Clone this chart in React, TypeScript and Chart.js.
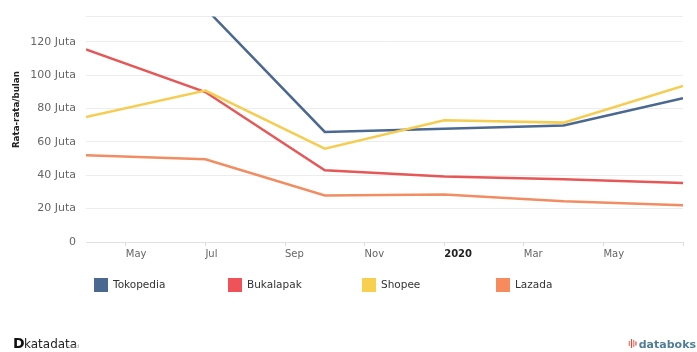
import React, { useEffect, useRef } from 'react';
import { Chart, registerables } from 'chart.js';

Chart.register(...registerables);

// x positions: month offset from April 2019 (quarterly points)
const months = [0, 3, 6, 9, 12, 15];
const tokopedia = [137, 140, 65.9, 67.9, 69.8, 86.1];
const bukalapak = [115.3, 89.8, 42.9, 39.3, 37.6, 35.3];
const shopee = [74.9, 90.7, 55.9, 72.9, 71.5, 93.4];
const lazada = [52.0, 49.6, 27.9, 28.4, 24.4, 22.0];

const seriesNames = ['Tokopedia', 'Bukalapak', 'Shopee', 'Lazada'];
const seriesValues = [tokopedia, bukalapak, shopee, lazada];
const seriesColors = ['#4b6891', '#e65757', '#f5cd52', '#f28c62'];
const legendColors = ['#4b6891', '#f0525a', '#f8d050', '#f68b5e'];

const xTickMonths = [1, 3, 5, 7, 9, 11, 13, 15];
const xTickLabels = ['May', 'Jul', 'Sep', 'Nov', '2020', 'Mar', 'May', ''];
const yTickValues = [0, 20, 40, 60, 80, 100, 120];
const yTickLabels = ['0', '20 Juta', '40 Juta', '60 Juta', '80 Juta', '100 Juta', '120 Juta'];
const yTop = 135;
const yTitle = 'Rata-rata/bulan';

const FONT = '"DejaVu Sans", Verdana, sans-serif';

const overlayPlugin = {
  id: 'overlay',
  afterDraw(chart: any) {
    const ctx = chart.ctx as CanvasRenderingContext2D;
    const ca = chart.chartArea;
    // y axis title
    ctx.save();
    ctx.translate(17, ca.top + 93);
    ctx.rotate(-Math.PI / 2);
    ctx.font = `bold 8.7px ${FONT}`;
    ctx.fillStyle = '#222';
    ctx.textAlign = 'center';
    ctx.textBaseline = 'middle';
    ctx.fillText(yTitle, 0, 0);
    ctx.restore();

    // legend
    ctx.save();
    ctx.font = `10.5px ${FONT}`;
    ctx.textBaseline = 'middle';
    ctx.textAlign = 'left';
    seriesNames.forEach((name, i) => {
      const x = 94 + i * 134;
      ctx.fillStyle = legendColors[i];
      ctx.fillRect(x, 278, 14, 14);
      ctx.fillStyle = '#333';
      ctx.fillText(name, x + 19, 285);
    });
    ctx.restore();

    // footer: katadata
    ctx.save();
    ctx.textBaseline = 'alphabetic';
    ctx.textAlign = 'left';
    ctx.fillStyle = '#111';
    ctx.font = `bold 14px ${FONT}`;
    ctx.fillText('D', 13, 348);
    ctx.fillStyle = '#222';
    ctx.font = `500 12px ${FONT}`;
    ctx.fillText('katadata', 24, 348);
    ctx.fillStyle = '#aaa';
    ctx.font = `5px ${FONT}`;
    ctx.fillText('.co.id', 66, 348);

    // footer: databoks
    ctx.fillStyle = '#4f7f96';
    ctx.font = `bold 11px ${FONT}`;
    ctx.textAlign = 'right';
    ctx.fillText('databoks', 696, 348);
    const w = ctx.measureText('databoks').width;
    const ix = 696 - w - 10;
    const iconColors = ['#f07a5a', '#e8454a', '#f07a5a', '#e8454a'];
    const iconH = [5, 9, 7, 4];
    iconH.forEach((h, i) => {
      ctx.fillStyle = iconColors[i];
      ctx.fillRect(ix + i * 2.2, 339 + (9 - h) / 2, 1.2, h);
    });
    ctx.restore();
  },
};

export default function App() {
  const ref = useRef<HTMLCanvasElement | null>(null);

  useEffect(() => {
    document.body.style.margin = '0';
    const canvas = ref.current;
    if (!canvas) return;
    const datasets = seriesNames.map((name, i) => ({
      label: name,
      data: months.map((m, j) => ({ x: m, y: seriesValues[i][j] })),
      borderColor: seriesColors[i],
      backgroundColor: seriesColors[i],
      borderWidth: 2.5,
      pointRadius: 0,
      tension: 0,
      fill: false,
      order: 3 - i,
    }));
    const chart = new Chart(canvas, {
      type: 'line',
      data: { datasets },
      plugins: [overlayPlugin],
      options: {
        responsive: false,
        animation: false,
        events: [],
        layout: { padding: { left: 0, right: 14, top: 15, bottom: 0 } },
        plugins: {
          legend: { display: false },
          tooltip: { enabled: false },
          title: { display: false },
        },
        scales: {
          x: {
            type: 'linear',
            min: 0,
            max: 15,
            afterBuildTicks: (scale: any) => {
              scale.ticks = xTickMonths.map((v) => ({ value: v }));
            },
            afterFit: (scale: any) => {
              scale.height = 110;
            },
            grid: {
              drawOnChartArea: false,
              drawTicks: true,
              tickLength: 4,
              color: '#dcdcdc',
            },
            border: { display: true, color: '#e0e0e0', width: 1 },
            ticks: {
              align: 'start',
              padding: 2,
              maxRotation: 0,
              autoSkip: false,
              callback: (v: any) => {
                const idx = xTickMonths.indexOf(Number(v));
                return idx >= 0 ? xTickLabels[idx] : '';
              },
              color: (c: any) => (c.tick && c.tick.label === '2020' ? '#222' : '#666'),
              font: (c: any) =>
                c.tick && c.tick.label === '2020'
                  ? { family: FONT, size: 10, weight: 'bold' }
                  : { family: FONT, size: 10 },
            },
          },
          y: {
            type: 'linear',
            min: 0,
            max: yTop,
            afterBuildTicks: (scale: any) => {
              scale.ticks = [...yTickValues, yTop].map((v) => ({ value: v }));
            },
            afterFit: (scale: any) => {
              scale.width = 86;
            },
            grid: {
              drawTicks: false,
              color: '#ececec',
              lineWidth: 1,
            },
            border: { display: false },
            ticks: {
              padding: 10,
              autoSkip: false,
              color: '#666',
              font: { family: FONT, size: 11 },
              callback: (v: any) => {
                const idx = yTickValues.indexOf(Number(v));
                return idx >= 0 ? yTickLabels[idx] : '';
              },
            },
          },
        },
      },
    } as any);
    return () => chart.destroy();
  }, []);

  return (
    <div style={{ width: 697, height: 352, background: '#fff' }}>
      <canvas ref={ref} width={697} height={352} style={{ display: 'block', width: 697, height: 352 }} />
    </div>
  );
}
